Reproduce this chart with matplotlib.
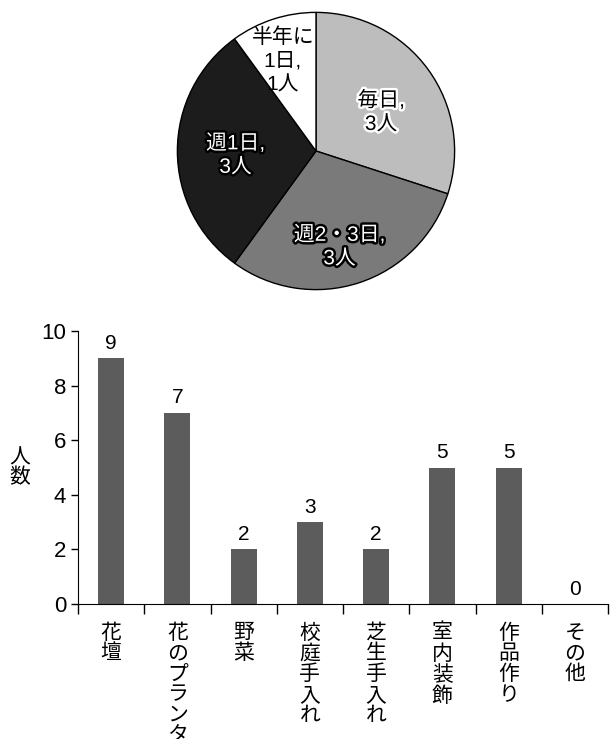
import matplotlib
matplotlib.use("Agg")
import matplotlib.pyplot as plt
import matplotlib.patheffects as pe

plt.rcParams['font.family'] = ['Liberation Sans', 'Noto Sans CJK JP', 'DejaVu Sans']

# pie data
freq_labels = ['毎日,\n3人', '週2・3日,\n3人', '週1日,\n3人', '半年に\n1日,\n1人']
freq_counts = [3, 3, 3, 1]
freq_colors = ['#bdbdbd', '#7a7a7a', '#1c1c1c', '#ffffff']

# bar data
activities = ['花壇', '花のプランター', '野菜', '校庭手入れ', '芝生手入れ', '室内装飾', '作品作り', 'その他']
people = [9, 7, 2, 3, 2, 5, 5, 0]

fig = plt.figure(figsize=(6.1, 7.39), dpi=100)

# ---- pie ----
ax1 = fig.add_axes([176 / 610, 1 - 291 / 739, 280 / 610, 280 / 739])
wedges, _ = ax1.pie(freq_counts, colors=freq_colors, startangle=90, counterclock=False,
                    wedgeprops=dict(edgecolor='black', linewidth=1.0))
ax1.set_xlim(-1.01, 1.01)
ax1.set_ylim(-1.01, 1.01)
ax1.set_aspect('equal')

label_pos = [(0.47, 0.28), (0.17, -0.69), (-0.58, -0.03), (-0.24, 0.65)]
label_style = [('black', 'white'), ('white', 'black'), ('white', 'black'), ('black', None)]
for txt, (x, y), (fc, halo) in zip(freq_labels, label_pos, label_style):
    t = ax1.text(x, y, txt, ha='center', va='center', fontsize=15, color=fc,
                 linespacing=1.3)
    if halo:
        t.set_path_effects([pe.withStroke(linewidth=3.5, foreground=halo)])

# ---- bars ----
ax2 = fig.add_axes([78 / 610, 1 - 604 / 739, 530 / 610, 273 / 739])
xs = list(range(len(activities)))
ax2.bar(xs, people, width=0.39, color='#5c5c5c')
for x, v in zip(xs, people):
    ax2.text(x, v + 0.2, str(v), ha='center', va='bottom', fontsize=15)

ax2.set_xlim(-0.5, len(activities) - 0.5)
ax2.set_ylim(0, 10)
ax2.set_yticks([0, 2, 4, 6, 8, 10])
ax2.tick_params(axis='y', labelsize=16, length=5, width=1)
ax2.set_xticks(xs)
ax2.set_xticklabels(['\n'.join(a) for a in activities], fontsize=15, linespacing=1.1, va='top')
ax2.tick_params(axis='x', length=0, pad=14)
ax2.set_xticks([i - 0.5 for i in range(len(activities) + 1)], minor=True)
ax2.tick_params(axis='x', which='minor', length=7, width=1, direction='out')
for s in ['top', 'right']:
    ax2.spines[s].set_visible(False)

fig.text(20 / 610, 1 - 468 / 739, '人\n数', ha='center', va='center', fontsize=15, linespacing=1.05)

fig.savefig('out.png', dpi=100)
